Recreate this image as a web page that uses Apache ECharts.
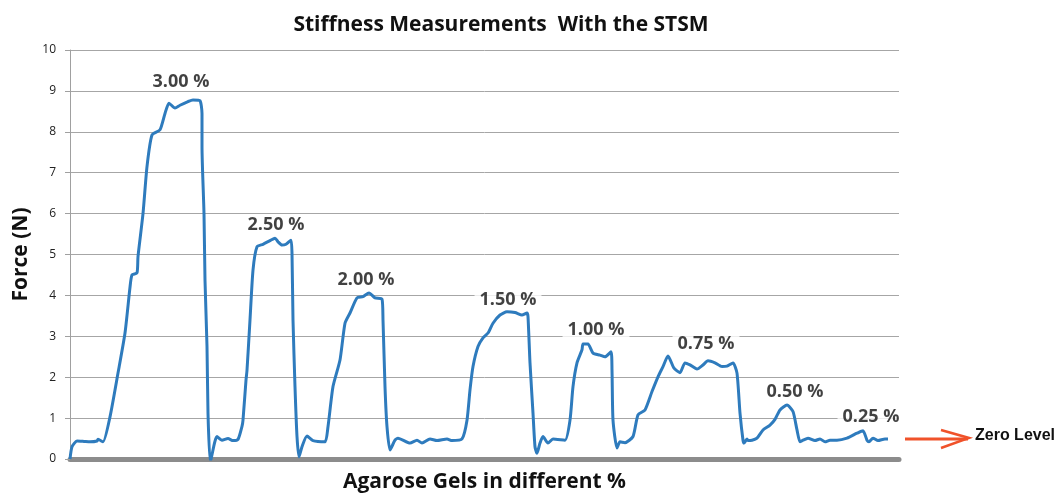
<!DOCTYPE html>
<html>
<head>
<meta charset="utf-8">
<script src="https://cdn.jsdelivr.net/npm/echarts@6/dist/echarts.min.js"></script>
<style>
  html, body { margin: 0; padding: 0; background: #fff; }
  #chart { width: 1061px; height: 494px; }
</style>
</head>
<body>
<div id="chart"></div>
<script>
// sample index along the run (no units shown on the axis)
var sampleIdx = [0, 2, 7, 14, 20, 27, 28, 33, 40, 48, 55, 60, 62, 67, 68, 73, 77, 82, 90, 95, 99, 105, 110, 118, 123, 130, 132, 132, 134, 135, 137, 138, 140, 141, 147, 152, 158, 163, 168, 172, 173, 176, 177, 180, 183, 187, 193, 200, 205, 208, 212, 216, 221, 222, 223, 225, 227, 229, 232, 237, 243, 255, 258, 263, 270, 275, 280, 287, 293, 299, 305, 312, 313, 315, 317, 320, 325, 328, 340, 347, 352, 360, 367, 377, 382, 392, 397, 400, 403, 408, 413, 418, 423, 430, 437, 445, 452, 457, 458, 460, 463, 465, 467, 470, 473, 478, 483, 495, 500, 503, 507, 512, 513, 518, 523, 530, 535, 541, 542, 543, 547, 550, 555, 563, 568, 575, 582, 588, 593, 598, 604, 610, 615, 620, 627, 633, 638, 645, 652, 657, 663, 667, 670, 673, 674, 677, 678, 682, 687, 693, 700, 705, 710, 717, 723, 727, 730, 733, 738, 745, 750, 755, 760, 767, 777, 787, 793, 797, 799, 803, 808, 815, 818, 823, 828];
var forceN = [0.00, 0.30, 0.44, 0.43, 0.42, 0.44, 0.48, 0.42, 1.03, 2.10, 3.08, 4.20, 4.50, 4.55, 4.95, 6.00, 7.15, 7.92, 8.05, 8.45, 8.70, 8.58, 8.65, 8.74, 8.78, 8.76, 8.45, 7.63, 6.00, 4.37, 2.75, 1.12, -0.05, 0.00, 0.55, 0.46, 0.50, 0.45, 0.48, 0.80, 0.95, 1.93, 2.17, 3.40, 4.62, 5.19, 5.25, 5.34, 5.40, 5.31, 5.23, 5.25, 5.35, 5.03, 3.40, 1.77, 0.55, 0.05, 0.30, 0.56, 0.45, 0.42, 0.79, 1.77, 2.42, 3.32, 3.57, 3.94, 3.97, 4.06, 3.94, 3.91, 3.40, 1.77, 0.79, 0.22, 0.46, 0.51, 0.39, 0.46, 0.39, 0.49, 0.45, 0.49, 0.45, 0.49, 0.95, 1.69, 2.26, 2.75, 2.96, 3.08, 3.32, 3.52, 3.60, 3.58, 3.52, 3.57, 3.48, 2.35, 1.12, 0.30, 0.14, 0.39, 0.55, 0.39, 0.49, 0.46, 0.95, 1.77, 2.35, 2.67, 2.81, 2.81, 2.59, 2.54, 2.50, 2.62, 2.18, 0.95, 0.27, 0.42, 0.40, 0.55, 1.08, 1.20, 1.65, 2.01, 2.26, 2.52, 2.22, 2.11, 2.35, 2.30, 2.20, 2.30, 2.40, 2.35, 2.26, 2.27, 2.35, 2.10, 1.12, 0.46, 0.39, 0.49, 0.45, 0.46, 0.51, 0.71, 0.83, 0.97, 1.20, 1.32, 1.16, 0.71, 0.42, 0.46, 0.51, 0.45, 0.49, 0.42, 0.46, 0.46, 0.51, 0.63, 0.69, 0.46, 0.42, 0.51, 0.45, 0.49, 0.49];

// gel concentration labels, placed next to each peak
var gelLabels = ['3.00 %', '2.50 %', '2.00 %', '1.50 %', '1.00 %', '0.75 %', '0.50 %', '0.25 %'];
var labelX = [111, 206, 296, 438, 526, 636, 725, 801];
var labelY = [9.22, 5.72, 4.38, 3.89, 3.15, 2.81, 1.64, 1.03];

var yTicks = [0, 1, 2, 3, 4, 5, 6, 7, 8, 9, 10];

var lineData = sampleIdx.map(function (x, i) { return [x, forceN[i]]; });
var labelData = gelLabels.map(function (t, i) { return { value: [labelX[i], labelY[i]], name: t }; });

var myChart = echarts.init(document.getElementById('chart'));
myChart.setOption({
    animation: false,
    title: {
        text: 'Stiffness Measurements  With the STSM',
        left: 496,
        textAlign: 'center',
        top: 10,
        textStyle: { fontFamily: 'Open Sans', fontWeight: 'bold', fontSize: 21, color: '#111' }
    },
    grid: { left: 70, right: 162, top: 50, bottom: 35, outerBoundsMode: 'none', containLabel: false },
    xAxis: {
        type: 'value',
        min: 0,
        max: 829,
        name: 'Agarose Gels in different %',
        nameLocation: 'middle',
        nameGap: 13,
        nameTextStyle: { fontFamily: 'Open Sans', fontWeight: 'bold', fontSize: 21, color: '#111' },
        axisLine: { show: true, lineStyle: { color: '#8c8c8c', width: 5 } },
        axisTick: { show: false },
        axisLabel: { show: false },
        splitLine: { show: false }
    },
    yAxis: {
        type: 'value',
        min: 0,
        max: 10,
        interval: 1,
        name: 'Force (N)',
        nameLocation: 'middle',
        nameGap: 36,
        nameRotate: 90,
        nameTextStyle: { fontFamily: 'Open Sans', fontWeight: 'bold', fontSize: 21, color: '#111' },
        axisLine: { show: true, lineStyle: { color: '#a0a0a0', width: 1 } },
        axisTick: { show: true, length: 5, lineStyle: { color: '#a0a0a0' } },
        axisLabel: {
            margin: 14,
            fontFamily: 'Open Sans',
            fontSize: 12,
            color: '#222',
            formatter: function (v) { return yTicks.indexOf(v) >= 0 ? String(v) : ''; }
        },
        splitLine: { show: true, lineStyle: { color: '#a6a6a6', width: 1 } }
    },
    series: [{
        type: 'line',
        data: lineData,
        showSymbol: false,
        smooth: 0.2,
        lineStyle: { color: '#2e7bbd', width: 3 },
        z: 3
    }, {
        type: 'scatter',
        data: labelData,
        symbolSize: 0,
        z: 4,
        label: {
            show: true,
            position: 'inside',
            formatter: function (p) { return p.name; },
            fontFamily: 'Open Sans',
            fontWeight: 'bold',
            fontSize: 18,
            color: '#111',
            backgroundColor: '#fff',
            padding: [0, 5]
        }
    }],
    graphic: [{
        type: 'line',
        shape: { x1: 905, y1: 439, x2: 968, y2: 439 },
        style: { stroke: '#f0522a', lineWidth: 3 }
    }, {
        type: 'polyline',
        shape: { points: [[941, 430], [969, 438], [941, 448]] },
        style: { stroke: '#f0522a', lineWidth: 2.5, fill: null }
    }, {
        type: 'text',
        left: 975,
        top: 428,
        style: { text: 'Zero Level', font: 'bold 16px "Liberation Sans"', fill: '#111' }
    }]
});
</script>
</body>
</html>
